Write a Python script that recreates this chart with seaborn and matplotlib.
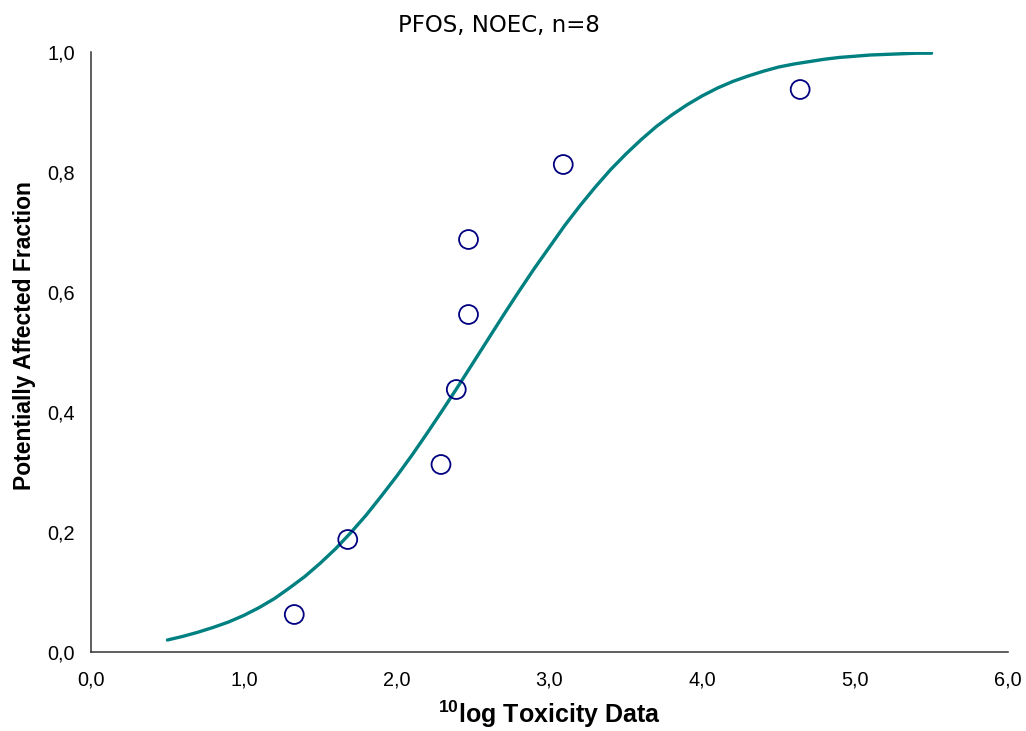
import matplotlib
matplotlib.use("Agg")
import matplotlib.pyplot as plt
import seaborn as sns

# ---------------------------------------------------------
# Data
# ---------------------------------------------------------
# observed toxicity data (10log NOEC) and plotting positions
obs_x = [1.33, 1.68, 2.29, 2.39, 2.47, 2.47, 3.09, 4.64]
obs_paf = [0.0625, 0.1875, 0.3125, 0.4375, 0.5625, 0.6875, 0.8125, 0.9375]

# fitted SSD curve (step 0.1)
curve_x = [0.5, 0.6, 0.7, 0.8, 0.9, 1.0, 1.1, 1.2, 1.3, 1.4,
           1.5, 1.6, 1.7, 1.8, 1.9, 2.0, 2.1, 2.2, 2.3, 2.4,
           2.5, 2.6, 2.7, 2.8, 2.9, 3.0, 3.1, 3.2, 3.3, 3.4,
           3.5, 3.6, 3.7, 3.8, 3.9, 4.0, 4.1, 4.2, 4.3, 4.4,
           4.5, 4.6, 4.7, 4.8, 4.9, 5.0, 5.1, 5.2, 5.3, 5.4, 5.5]
curve_paf = [0.020, 0.026, 0.033, 0.041, 0.050, 0.061, 0.074, 0.089, 0.107, 0.126,
             0.148, 0.172, 0.199, 0.228, 0.260, 0.293, 0.328, 0.365, 0.403, 0.442,
             0.482, 0.522, 0.562, 0.601, 0.639, 0.675, 0.711, 0.744, 0.775, 0.804,
             0.830, 0.854, 0.876, 0.895, 0.912, 0.927, 0.940, 0.951, 0.960, 0.968,
             0.975, 0.980, 0.984, 0.988, 0.991, 0.993, 0.995, 0.996, 0.997, 0.998, 0.998]

x_ticks = [0, 1, 2, 3, 4, 5, 6]
x_tick_labels = ["0,0", "1,0", "2,0", "3,0", "4,0", "5,0", "6,0"]
y_ticks = [0, 0.2, 0.4, 0.6, 0.8, 1.0]
y_tick_labels = ["0,0", "0,2", "0,4", "0,6", "0,8", "1,0"]

# ---------------------------------------------------------
# Style
# ---------------------------------------------------------
sns.set_style("white")
plt.rcParams["font.family"] = ["Liberation Sans", "DejaVu Sans"]
plt.rcParams["mathtext.fontset"] = "custom"
plt.rcParams["mathtext.rm"] = "Liberation Sans"
plt.rcParams["mathtext.bf"] = "Liberation Sans:bold"
for key in ["text.color", "axes.labelcolor", "xtick.color", "ytick.color"]:
    plt.rcParams[key] = "black"

fig = plt.figure(figsize=(10.26, 7.31), dpi=100)
ax = fig.add_axes([91 / 1026, 79 / 731, 917 / 1026, 600 / 731])

sns.lineplot(x=curve_x, y=curve_paf, ax=ax, color="#008080", linewidth=2.4)
sns.scatterplot(x=obs_x, y=obs_paf, ax=ax, marker="o", s=185,
                facecolor="none", edgecolor="#000080", linewidth=1.3, zorder=3)

ax.set_xlim(0, 6)
ax.set_ylim(0, 1)
ax.set_xticks(x_ticks)
ax.set_xticklabels(x_tick_labels, fontsize=14.3)
ax.set_yticks(y_ticks)
ax.set_yticklabels(y_tick_labels, fontsize=14.3)

sns.despine(ax=ax)
for side in ["left", "bottom"]:
    ax.spines[side].set_color("#333333")
    ax.spines[side].set_linewidth(1.1)

ax.tick_params(axis="x", direction="out", length=3.6, width=1, color="#333333", pad=10)
ax.tick_params(axis="y", direction="inout", length=9.5, width=1, color="#333333", pad=7)

ax.set_xlabel(r"$^{\mathbf{10}}$log Toxicity Data", fontsize=18, fontweight="bold")
ax.xaxis.label.set_va("baseline")
ax.xaxis.set_label_coords(0.5, -0.119)

ax.set_ylabel("Potentially Affected Fraction", fontsize=16.5, fontweight="bold")
ax.yaxis.label.set_va("center")
ax.yaxis.set_label_coords(-0.072, 0.5275)

fig.text(498.5 / 1026, 1 - 32 / 731, "PFOS, NOEC, n=8", family="DejaVu Sans",
         fontsize=16.5, ha="center", va="baseline")

fig.savefig("out.png", dpi=100)
